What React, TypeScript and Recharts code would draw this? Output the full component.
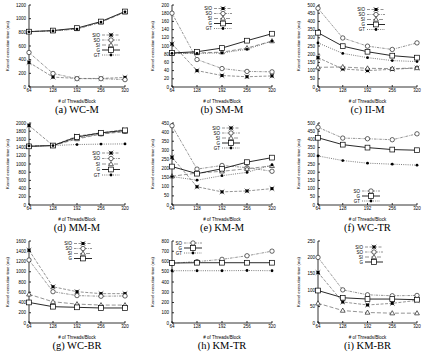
import { LineChart, Line, XAxis, YAxis } from "recharts";

const threads = [64, 128, 192, 256, 320];

// (a) WC-M
const wcmSIO = [360, 145, 125, 125, 140];
const wcmSO = [505, 198, 122, 122, 108];
const wcmSI = [812, 822, 850, 948, 1095];
const wcmG = [810, 826, 862, 958, 1105];
const wcmGT = [808, 820, 848, 950, 1100];
const wcmTicks = [0, 200, 400, 600, 800, 1000, 1200];

// (b) SM-M
const smmSIO = [105, 40, 28, 25, 27];
const smmSO = [180, 67, 45, 38, 37];
const smmSI = [82, 83, 85, 95, 112];
const smmG = [83, 86, 95, 113, 130];
const smmGT = [82, 82, 83, 92, 112];
const smmTicks = [0, 20, 40, 60, 80, 100, 120, 140, 160, 180, 200];

// (c) II-M
const iimSIO = [179, 110, 100, 108, 116];
const iimSO = [480, 299, 249, 229, 269];
const iimSI = [120, 122, 114, 112, 116];
const iimG = [331, 249, 215, 191, 179];
const iimGT = [269, 205, 179, 161, 155];
const iimTicks = [0, 50, 100, 150, 200, 250, 300, 350, 400, 450, 500];

// (d) MM-M
const mmmSIO = [1940, 1450, 1680, 1760, 1840];
const mmmSO = [1430, 1450, 1630, 1740, 1800];
const mmmSI = [1440, 1450, 1610, 1730, 1790];
const mmmG = [1430, 1450, 1660, 1760, 1820];
const mmmGT = [1440, 1450, 1475, 1485, 1490];
const mmmTicks = [0, 200, 400, 600, 800, 1000, 1200, 1400, 1600, 1800, 2000];

// (e) KM-M
const kmmSIO = [262, 100, 72, 77, 90];
const kmmSO = [435, 197, 217, 205, 185];
const kmmSI = [158, 175, 185, 199, 215];
const kmmG = [211, 172, 199, 235, 260];
const kmmGT = [156, 136, 161, 179, 220];
const kmmTicks = [0, 50, 100, 150, 200, 250, 300, 350, 400, 450];

// (f) WC-TR
const wctrSO = [474, 408, 404, 398, 434];
const wctrG = [410, 368, 350, 338, 334];
const wctrGT = [299, 271, 255, 249, 243];
const wctrTicks = [0, 50, 100, 150, 200, 250, 300, 350, 400, 450, 500];

// (g) WC-BR
const wcbrSIO = [1420, 707, 611, 573, 573];
const wcbrSO = [1229, 611, 535, 522, 528];
const wcbrSI = [560, 414, 369, 350, 350];
const wcbrG = [401, 318, 306, 293, 293];
const wcbrTicks = [0, 200, 400, 600, 800, 1000, 1200, 1400, 1600];

// (h) KM-TR
const kmtrSO = [583, 599, 621, 656, 701];
const kmtrG = [585, 588, 588, 588, 588];
const kmtrGT = [510, 510, 510, 512, 510];
const kmtrTicks = [0, 100, 200, 300, 400, 500, 600, 700, 800];

// (i) KM-BR
const kmbrSIO = [154, 64, 55, 60, 69];
const kmbrSO = [200, 101, 86, 83, 84];
const kmbrSI = [60, 38, 32, 30, 30];
const kmbrG = [99, 77, 73, 73, 71];
const kmbrTicks = [0, 50, 100, 150, 200, 250];

type Kind = "SIO" | "SO" | "SI" | "G" | "GT";

const lineStyle: Record<Kind, { dash?: string; stroke: string }> = {
  SIO: { dash: "3 1.5", stroke: "#666" },
  SO: { dash: "2.5 1 0.8 1", stroke: "#666" },
  SI: { dash: "4 2", stroke: "#666" },
  G: { stroke: "#111" },
  GT: { dash: "1 1.2", stroke: "#444" },
};

function Mark({ kind, cx, cy }: { kind: Kind; cx: number; cy: number }) {
  if (cx == null || cy == null) return <g />;
  switch (kind) {
    case "SIO":
      return (
        <g>
          <rect x={cx - 1.5} y={cy - 1.5} width={3} height={3} fill="#000" />
          <path
            d={`M${cx - 2.3},${cy - 2.3}L${cx + 2.3},${cy + 2.3}M${cx - 2.3},${cy + 2.3}L${cx + 2.3},${cy - 2.3}`}
            stroke="#000"
            strokeWidth={0.6}
          />
        </g>
      );
    case "SO":
      return <circle cx={cx} cy={cy} r={2.2} fill="#fff" stroke="#000" strokeWidth={0.6} />;
    case "SI":
      return (
        <path
          d={`M${cx},${cy - 2.5}L${cx + 2.4},${cy + 1.7}L${cx - 2.4},${cy + 1.7}Z`}
          fill="#fff"
          stroke="#000"
          strokeWidth={0.6}
        />
      );
    case "G":
      return <rect x={cx - 2.4} y={cy - 2.4} width={4.8} height={4.8} fill="#fff" stroke="#000" strokeWidth={0.7} />;
    default:
      return <circle cx={cx} cy={cy} r={1.4} fill="#000" />;
  }
}

interface Series {
  kind: Kind;
  values: number[];
}

interface PanelDef {
  title: string;
  left: number; // chart left
  top: number; // plot top
  yw: number;
  plotW: number;
  yTicks: number[];
  series: Series[];
  legendX: number;
  legendY: number;
  legendGap?: number;
}

const PLOT_H = 82;
const X_AXIS_H = 18;
const RIGHT_PAD = 8;

function Panel({ p }: { p: PanelDef }) {
  const rows = threads.map((t, i) => {
    const r: Record<string, number> = { t };
    p.series.forEach((s) => (r[s.kind] = s.values[i]));
    return r;
  });
  const yMax = p.yTicks[p.yTicks.length - 1];
  const W = p.yw + p.plotW + RIGHT_PAD;
  const H = 3 + PLOT_H + X_AXIS_H;
  const gap = p.legendGap ?? 5;
  return (
    <>
      <div style={{ position: "absolute", left: p.left, top: p.top - 3, width: W, height: H }}>
        <LineChart width={W} height={H} data={rows} margin={{ top: 3, right: RIGHT_PAD, left: 0, bottom: 0 }}>
          <XAxis
            dataKey="t"
            type="number"
            domain={[64, 320]}
            ticks={threads}
            interval={0}
            tickSize={-2}
            tickMargin={4}
            height={X_AXIS_H}
            stroke="#000"
            strokeWidth={0.8}
            tick={{ fontSize: 4.5, fill: "#000" }}
            label={{ value: "# of Threads/Block", position: "insideBottom", offset: 2, fontSize: 4.5, fill: "#000" }}
          />
          <XAxis
            xAxisId="top"
            orientation="top"
            type="number"
            domain={[64, 320]}
            ticks={threads}
            tick={false}
            tickSize={-2}
            height={0}
            stroke="#000"
            strokeWidth={0.8}
          />
          <YAxis
            type="number"
            domain={[0, yMax]}
            ticks={p.yTicks}
            interval={0}
            tickSize={-2}
            tickMargin={5}
            width={p.yw}
            stroke="#000"
            strokeWidth={0.8}
            tick={{ fontSize: 4.5, fill: "#000" }}
            label={{
              value: "Kernel execution time (ms)",
              angle: -90,
              position: "insideLeft",
              offset: 6,
              fontSize: 4.2,
              fill: "#000",
              style: { textAnchor: "middle" },
            }}
          />
          <YAxis
            yAxisId="right"
            orientation="right"
            type="number"
            domain={[0, yMax]}
            ticks={p.yTicks}
            tick={false}
            tickSize={-2}
            width={0}
            stroke="#000"
            strokeWidth={0.8}
          />
          {p.series.map((s) => (
            <Line
              key={s.kind}
              dataKey={s.kind}
              type="linear"
              stroke={lineStyle[s.kind].stroke}
              strokeDasharray={lineStyle[s.kind].dash}
              strokeWidth={s.kind === "G" ? 0.9 : 0.7}
              isAnimationActive={false}
              dot={(d: any) => <Mark key={`${s.kind}-${d.index}`} kind={s.kind} cx={d.cx} cy={d.cy} />}
              activeDot={false}
            />
          ))}
        </LineChart>
      </div>
      <svg
        style={{ position: "absolute", left: 0, top: 0, overflow: "visible", pointerEvents: "none" }}
        width={1}
        height={1}
      >
        {p.series.map((s, i) => {
          const y = p.legendY + i * gap;
          const x = p.legendX;
          return (
            <g key={s.kind}>
              <text x={x} y={y + 1.6} fontSize={4.5} textAnchor="end" fill="#000">
                {s.kind}
              </text>
              <line
                x1={x + 2}
                x2={x + 20}
                y1={y}
                y2={y}
                stroke={lineStyle[s.kind].stroke}
                strokeDasharray={lineStyle[s.kind].dash}
                strokeWidth={s.kind === "G" ? 0.9 : 0.7}
              />
              <Mark kind={s.kind} cx={x + 11} cy={y} />
            </g>
          );
        })}
      </svg>
      <div
        style={{
          position: "absolute",
          left: p.left + p.yw - 20,
          width: p.plotW + 40,
          top: p.top + PLOT_H + 17,
          textAlign: "center",
          fontFamily: "'Liberation Serif', serif",
          fontSize: 10.5,
          lineHeight: "11px",
          whiteSpace: "nowrap",
        }}
      >
        {p.title}
      </div>
    </>
  );
}

const S = (kind: Kind, values: number[]): Series => ({ kind, values });

const rowTops = [5, 123, 241];
const col1 = { left: 2, yw: 27, plotW: 96 };
const col2 = { left: 147, yw: 25, plotW: 100 };
const col3 = { left: 293, yw: 25, plotW: 99 };

const panels: PanelDef[] = [
  {
    title: "(a)  WC-M", ...col1, top: rowTops[0], yTicks: wcmTicks,
    series: [S("SIO", wcmSIO), S("SO", wcmSO), S("SI", wcmSI), S("G", wcmG), S("GT", wcmGT)],
    legendX: 100, legendY: 35,
  },
  {
    title: "(b)  SM-M", ...col2, top: rowTops[0], yTicks: smmTicks,
    series: [S("SIO", smmSIO), S("SO", smmSO), S("SI", smmSI), S("G", smmG), S("GT", smmGT)],
    legendX: 212, legendY: 8.5,
  },
  {
    title: "(c)  II-M", ...col3, top: rowTops[0], yTicks: iimTicks,
    series: [S("SIO", iimSIO), S("SO", iimSO), S("SI", iimSI), S("G", iimG), S("GT", iimGT)],
    legendX: 365, legendY: 9.5,
  },
  {
    title: "(d)  MM-M", ...col1, top: rowTops[1], yTicks: mmmTicks,
    series: [S("SIO", mmmSIO), S("SO", mmmSO), S("SI", mmmSI), S("G", mmmG), S("GT", mmmGT)],
    legendX: 100, legendY: 153, legendGap: 5.5,
  },
  {
    title: "(e)  KM-M", ...col2, top: rowTops[1], yTicks: kmmTicks,
    series: [S("SIO", kmmSIO), S("SO", kmmSO), S("SI", kmmSI), S("G", kmmG), S("GT", kmmGT)],
    legendX: 220, legendY: 128,
  },
  {
    title: "(f)  WC-TR", ...col3, top: rowTops[1], yTicks: wctrTicks,
    series: [S("SO", wctrSO), S("G", wctrG), S("GT", wctrGT)],
    legendX: 360, legendY: 191,
  },
  {
    title: "(g)  WC-BR", ...col1, top: rowTops[2], yTicks: wcbrTicks,
    series: [S("SIO", wcbrSIO), S("SO", wcbrSO), S("SI", wcbrSI), S("G", wcbrG)],
    legendX: 72, legendY: 243.5,
  },
  {
    title: "(h)  KM-TR", ...col2, top: rowTops[2], yTicks: kmtrTicks,
    series: [S("SO", kmtrSO), S("G", kmtrG), S("GT", kmtrGT)],
    legendX: 182, legendY: 243,
  },
  {
    title: "(i)  KM-BR", ...col3, top: rowTops[2], yTicks: kmbrTicks,
    series: [S("SIO", kmbrSIO), S("SO", kmbrSO), S("SI", kmbrSI), S("G", kmbrG)],
    legendX: 363, legendY: 247,
  },
];

export default function App() {
  return (
    <div
      style={{
        position: "absolute",
        left: 0,
        top: 0,
        width: 423,
        height: 354,
        background: "#fff",
        overflow: "hidden",
        fontFamily: "'Liberation Sans', Arial, sans-serif",
      }}
    >
      {panels.map((p) => (
        <Panel key={p.title} p={p} />
      ))}
    </div>
  );
}
